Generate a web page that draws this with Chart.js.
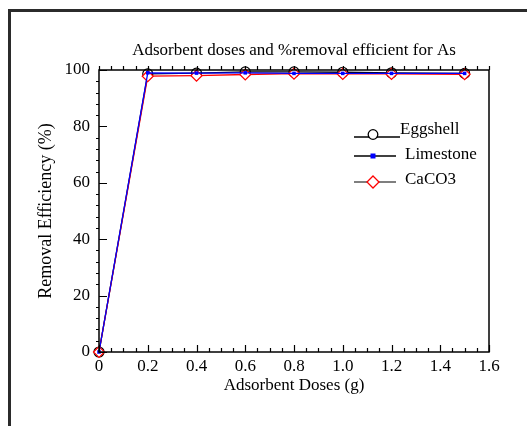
<!DOCTYPE html>
<html>
<head>
<meta charset="utf-8">
<script src="https://cdn.jsdelivr.net/npm/chart.js"></script>
<style>
  html, body { margin: 0; padding: 0; background: #fff; }
  #wrap { position: relative; width: 527px; height: 426px; overflow: hidden; }
  #frame { position: absolute; left: 8px; top: 9px; width: 600px; height: 600px;
           border: 3px solid #2b2b2b; pointer-events: none; }
</style>
</head>
<body>
<div id="wrap">
  <canvas id="myChart" width="527" height="426"></canvas>
  <div id="frame"></div>
</div>
<script>
// adsorbent dose (g)
const doses = [0, 0.2, 0.4, 0.6, 0.8, 1.0, 1.2, 1.5];
// removal efficiency (%)
const eggshell = [0, 98.6, 98.9, 99.3, 99.3, 99.2, 99.0, 98.8];
const limestone = [0, 99.0, 98.9, 99.0, 98.8, 98.8, 98.8, 98.8];
const caco3 = [0, 97.8, 98.0, 98.4, 98.7, 98.6, 98.6, 98.5];
const seriesNames = ["Eggshell", "Limestone", "CaCO3"];

const serif = "'Liberation Serif', 'Times New Roman', serif";

function pairs(ys) {
  let out = [];
  for (let i = 0; i < doses.length; i++) {
    out.push({ x: doses[i], y: ys[i] });
  }
  return out;
}

// plot box + tick marks (bottom/left inward majors, top outward)
const axisBox = {
  id: "axisBox",
  afterDraw(chart) {
    const ctx = chart.ctx;
    const a = chart.chartArea;
    const xs = chart.scales.x;
    const ys = chart.scales.y;
    ctx.save();
    ctx.strokeStyle = "#000";
    ctx.lineWidth = 1.5;
    ctx.strokeRect(a.left, a.top, a.right - a.left, a.bottom - a.top);
    ctx.lineWidth = 1.2;
    ctx.beginPath();
    for (let v = 0; v <= 1.6001; v += 0.05) {
      const px = Math.round(xs.getPixelForValue(v)) + 0.5;
      const major = Math.abs(v / 0.2 - Math.round(v / 0.2)) < 0.01;
      const len = major ? 7 : 4;
      ctx.moveTo(px, a.bottom);
      ctx.lineTo(px, a.bottom - len);
      ctx.moveTo(px, a.top);
      ctx.lineTo(px, a.top - 4);
    }
    for (let v = 0; v <= 100; v += 4) {
      const py = Math.round(ys.getPixelForValue(v)) + 0.5;
      if (v % 20 === 0) {
        ctx.moveTo(a.left, py);
        ctx.lineTo(a.left + 8, py);
      } else {
        ctx.moveTo(a.left, py);
        ctx.lineTo(a.left - 3, py);
      }
    }
    ctx.stroke();
    ctx.restore();
  },
};

// legend drawn as line + marker + label
const lineLegend = {
  id: "lineLegend",
  afterDraw(chart) {
    const ctx = chart.ctx;
    const rows = [
      { y: 137, lineColor: "#000", textX: 400, textY: 130 },
      { y: 156, lineColor: "#000", textX: 405, textY: 155 },
      { y: 182, lineColor: "#555", textX: 405, textY: 180 },
    ];
    ctx.save();
    ctx.font = "17px " + serif;
    ctx.textBaseline = "middle";
    ctx.fillStyle = "#000";
    for (let i = 0; i < rows.length; i++) {
      const r = rows[i];
      ctx.strokeStyle = r.lineColor;
      ctx.lineWidth = 1.3;
      ctx.beginPath();
      ctx.moveTo(354, r.y);
      ctx.lineTo(i === 0 ? 400 : 396, r.y);
      ctx.stroke();
      if (i === 0) {
        ctx.beginPath();
        ctx.fillStyle = "#fff";
        ctx.arc(373, r.y - 2.5, 4.8, 0, Math.PI * 2);
        ctx.fill();
        ctx.strokeStyle = "#000";
        ctx.stroke();
      } else if (i === 1) {
        ctx.fillStyle = "#0000ff";
        ctx.fillRect(370.5, r.y - 2.5, 5, 5);
      } else {
        ctx.beginPath();
        ctx.fillStyle = "#fff";
        ctx.moveTo(373, r.y - 6);
        ctx.lineTo(379, r.y);
        ctx.lineTo(373, r.y + 6);
        ctx.lineTo(367, r.y);
        ctx.closePath();
        ctx.fill();
        ctx.strokeStyle = "#ff0000";
        ctx.stroke();
      }
      ctx.fillStyle = "#000";
      ctx.fillText(seriesNames[i], r.textX, r.textY);
    }
    ctx.restore();
  },
};

let config = {
  type: "line",
  data: {
    datasets: [
      {
        label: seriesNames[0],
        data: pairs(eggshell),
        borderColor: "#000",
        borderWidth: 1.3,
        pointStyle: "circle",
        pointRadius: 5,
        pointBorderColor: "#000",
        pointBackgroundColor: "rgba(255,255,255,0)",
        pointBorderWidth: 1.2,
        tension: 0,
        clip: false,
        order: 3,
      },
      {
        label: seriesNames[2],
        data: pairs(caco3),
        borderColor: "#ff0000",
        borderWidth: 1.3,
        pointStyle: "rectRot",
        pointRadius: 5.5,
        pointBorderColor: "#ff0000",
        pointBackgroundColor: "#fff",
        pointBorderWidth: 1.2,
        tension: 0,
        clip: false,
        order: 2,
      },
      {
        label: seriesNames[1],
        data: pairs(limestone),
        borderColor: "#0000ff",
        borderWidth: 1.3,
        pointStyle: "rect",
        pointRadius: 2.5,
        pointBorderColor: "#0000ff",
        pointBackgroundColor: "#0000ff",
        pointBorderWidth: 0,
        tension: 0,
        clip: false,
        order: 1,
      },
    ],
  },
  options: {
    responsive: false,
    animation: false,
    layout: { padding: { left: 0, right: 38, top: 0, bottom: 0 } },
    plugins: {
      legend: { display: false },
      tooltip: { enabled: false },
      title: {
        display: true,
        text: "Adsorbent doses and %removal efficient for As",
        fullSize: false,
        color: "#000",
        font: { family: serif, size: 17, weight: "normal" },
        padding: { top: 40, bottom: 9.6 },
      },
    },
    scales: {
      x: {
        type: "linear",
        min: 0,
        max: 1.6,
        afterFit: (scale) => { scale.height = 74; },
        grid: { display: false, drawTicks: false },
        border: { display: false },
        ticks: {
          stepSize: 0.2,
          color: "#000",
          padding: 4,
          maxRotation: 0,
          font: { family: serif, size: 17 },
        },
        title: {
          display: true,
          text: "Adsorbent Doses (g)",
          color: "#000",
          font: { family: serif, size: 17 },
          padding: { top: 0, bottom: 29.8 },
        },
      },
      y: {
        min: 0,
        max: 100,
        afterFit: (scale) => { scale.width = 99; },
        grid: { display: false, drawTicks: false },
        border: { display: false },
        ticks: {
          stepSize: 20,
          color: "#000",
          padding: 9,
          font: { family: serif, size: 17 },
        },
        title: {
          display: true,
          text: "Removal Efficiency (%)",
          color: "#000",
          font: { family: serif, size: 18 },
          padding: { top: 35.2, bottom: 0 },
        },
      },
    },
  },
  plugins: [axisBox, lineLegend],
};

let myChart = new Chart(document.getElementById("myChart").getContext("2d"), config);
</script>
</body>
</html>
